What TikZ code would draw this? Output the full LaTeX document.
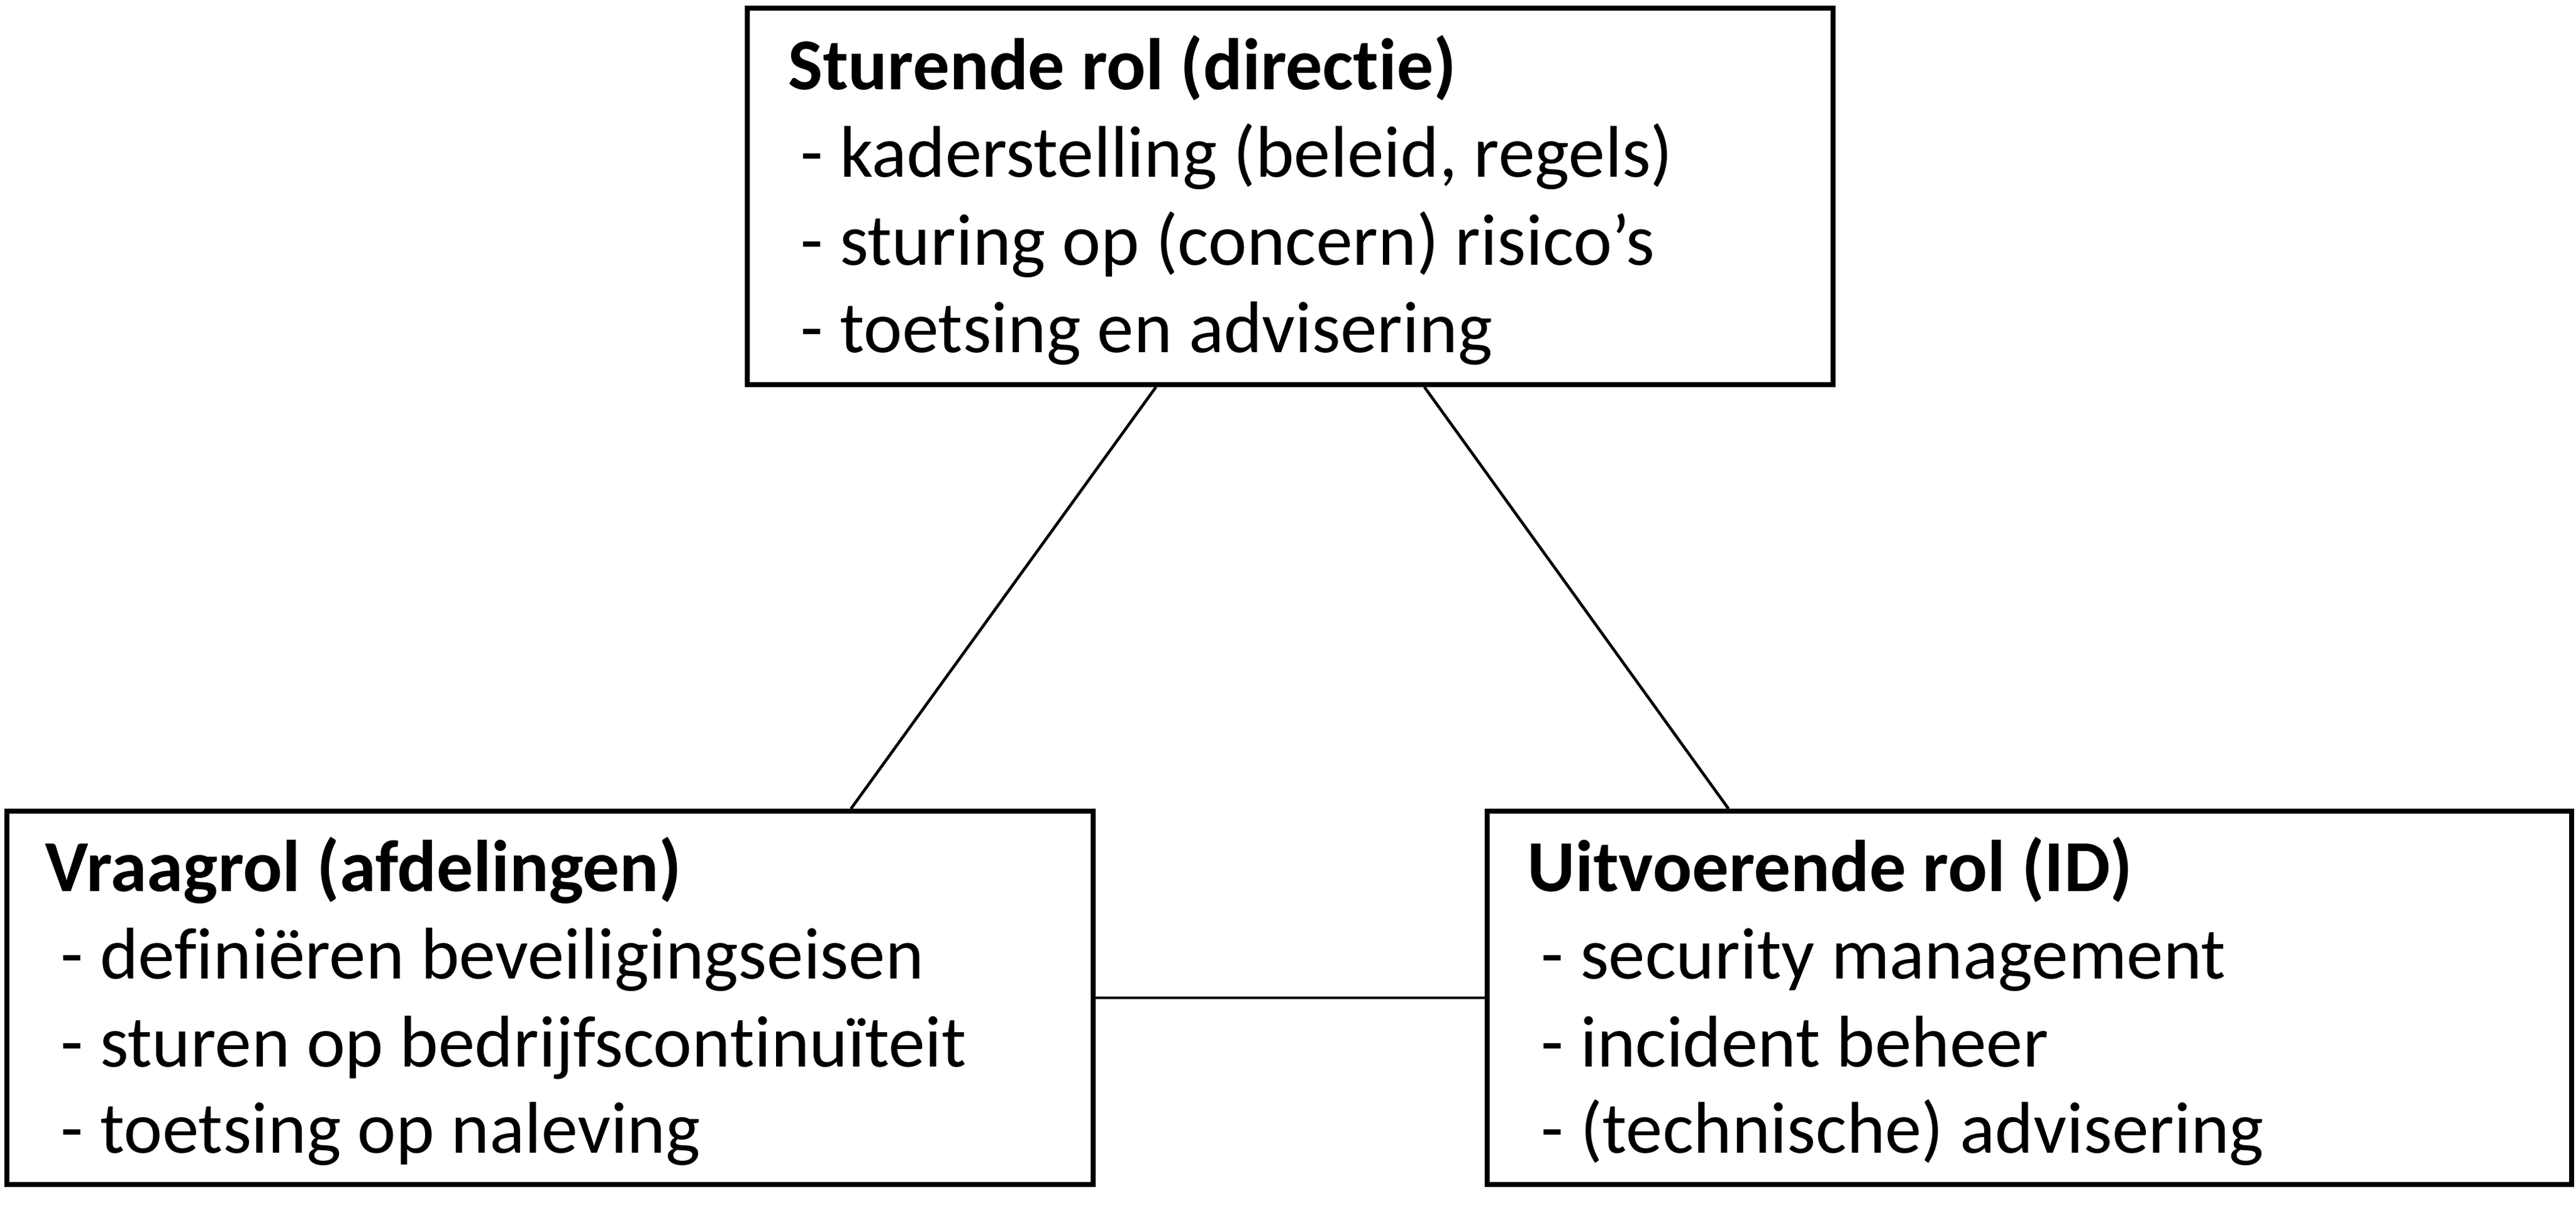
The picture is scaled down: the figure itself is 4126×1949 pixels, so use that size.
\documentclass[tikz,border=0pt]{standalone}
\usepackage{fontspec}
\setmainfont{Carlito}[Ligatures=NoCommon]
\begin{document}
\begin{tikzpicture}[x=0.25pt,y=-0.25pt,
  box/.style={draw, line width=1.9pt, rectangle, inner sep=0pt},
  conn/.style={line width=1.15pt},
  txt/.style={anchor=base west, inner sep=0pt, font=\fontsize{29.3}{35}\selectfont},
  ttl/.style={txt, font=\fontsize{29.3}{35}\selectfont\bfseries}]
\useasboundingbox (0,0) rectangle (4126,1949);
\node[box, minimum width=434.75pt, minimum height=150.75pt] (top) at (2066.5,314.5) {};
\node[box, minimum width=435pt, minimum height=149.5pt] (left) at (881,1598) {};
\node[box, minimum width=434.25pt, minimum height=149.5pt] (right) at (3250.5,1598) {};
% connectors
\draw[conn] ([xshift=-53.75pt]top.south) -- ([xshift=120.5pt]left.north);
\draw[conn] ([xshift=53.75pt]top.south) -- ([xshift=-120.5pt]right.north);
\draw[conn] (left.east) -- (right.west);
% top box text
\node[ttl] (t0) at (1262,143) {Sturende rol (directie)};
\node[txt] (t1) at (1282,283) {- kaderstelling (beleid, regels)};
\node[txt] (t2) at (1282,424) {- sturing op (concern) risico’s};
\node[txt] (t3) at (1282,564) {- toetsing en advisering};
% left box text
\node[ttl] (l0) at (72,1427) {Vraagrol (afdelingen)};
\node[txt] (l1) at (97,1567) {- definiëren beveiligingseisen};
\node[txt] (l2) at (97,1708) {- sturen op bedrijfscontinuïteit};
\node[txt] (l3) at (97,1846) {- toetsing op naleving};
% right box text
\node[ttl] (r0) at (2446,1427) {Uitvoerende rol (ID)};
\node[txt] (r1) at (2468,1567) {- security management};
\node[txt] (r2) at (2468,1708) {- incident beheer};
\node[txt] (r3) at (2468,1846) {- (technische) advisering};
\end{tikzpicture}
\end{document}
